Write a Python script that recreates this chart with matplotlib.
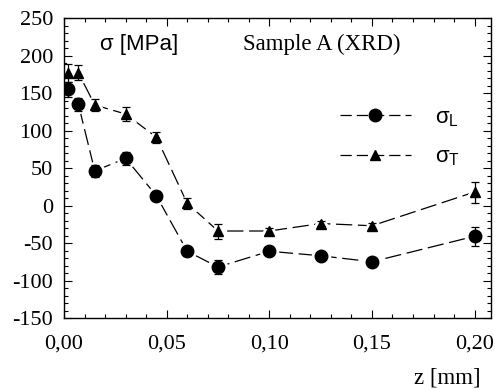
import matplotlib.pyplot as plt
from matplotlib.ticker import MultipleLocator, FuncFormatter

z = [0.002, 0.007, 0.015, 0.030, 0.045, 0.060, 0.075, 0.100, 0.125, 0.150, 0.200]
sig_L = [155, 135, 46, 63, 13, -61, -82, -61, -67, -75, -41]
err_L = [10, 9, 8, 9, 6, 6, 9, 4, 3, 4, 13]
sig_T = [177, 177, 134, 122, 91, 3, -34, -34, -24, -27, 18]
err_T = [12, 10, 8, 9, 7, 7, 10, 4, 3, 4, 14]

SERIF = "Liberation Serif"
SANS = "Liberation Sans"

plt.rcParams["mathtext.fontset"] = "custom"
plt.rcParams["mathtext.rm"] = SANS
plt.rcParams["mathtext.it"] = SANS

fig = plt.figure(figsize=(4.95, 3.9), dpi=100)
ax = fig.add_axes([0.1293, 0.1846, 0.8627, 0.7692])

dash = (13, 4.5)


def series(x, y, e, marker, ms, label):
    ax.plot(x, y, color="black", lw=0.9, dashes=dash, zorder=1)
    # white halo so the dashed line stops short of the marker
    ax.plot(x, y, ls="none", marker=marker, ms=ms, mfc="white", mec="white",
            mew=5, zorder=2)
    ax.errorbar(x, y, yerr=e, fmt="none", ecolor="black", elinewidth=0.9,
                capsize=3, capthick=0.9, zorder=3)
    ax.plot(x, y, ls="none", marker=marker, ms=ms, color="black", zorder=4)
    h, = ax.plot([], [], color="black", lw=0.9, dashes=(9, 4), marker=marker,
                 ms=ms, label=label)
    return h


hL = series(z, sig_L, err_L, "o", 9, r"$\sigma_{\mathregular{L}}$")
hT = series(z, sig_T, err_T, "^", 7, r"$\sigma_{\mathregular{T}}$")

ax.set_xlim(0, 0.208)
ax.set_ylim(-150, 250)
ax.xaxis.set_major_locator(MultipleLocator(0.05))
ax.xaxis.set_minor_locator(MultipleLocator(0.01))
ax.yaxis.set_major_locator(MultipleLocator(50))
ax.yaxis.set_minor_locator(MultipleLocator(10))
ax.xaxis.set_major_formatter(FuncFormatter(lambda v, p: f"{v:.2f}".replace(".", ",")))
ax.yaxis.set_major_formatter(FuncFormatter(lambda v, p: f"{v:.0f}".replace("\u2212", "-")))
ax.tick_params(which="both", direction="in", top=True, right=True, width=0.8)
ax.tick_params(which="major", length=6, labelsize=16)
ax.tick_params(which="minor", length=3)
ax.tick_params(axis="x", which="major", pad=12)
ax.tick_params(axis="y", which="major", pad=8)
for lab in ax.get_xticklabels() + ax.get_yticklabels():
    lab.set_fontfamily(SERIF)
for s in ax.spines.values():
    s.set_linewidth(1.0)

ax.text(0.084, 0.913, "σ [MPa]", transform=ax.transAxes, family=SANS, fontsize=16,
        va="center", ha="left")
ax.text(0.419, 0.913, "Sample A (XRD)", transform=ax.transAxes, family=SERIF,
        fontsize=16.5, va="center", ha="left")
fig.text(0.97, 0.005, "z [mm]", family=SERIF, fontsize=16.5, ha="right", va="bottom")

leg = ax.legend(handles=[hL, hT], loc="upper left", bbox_to_anchor=(0.62, 0.74),
                frameon=False, handlelength=3.2, handletextpad=1.1, labelspacing=0.8,
                borderpad=0, prop={"family": SANS, "size": 16})

fig.savefig("out.png", dpi=100)
